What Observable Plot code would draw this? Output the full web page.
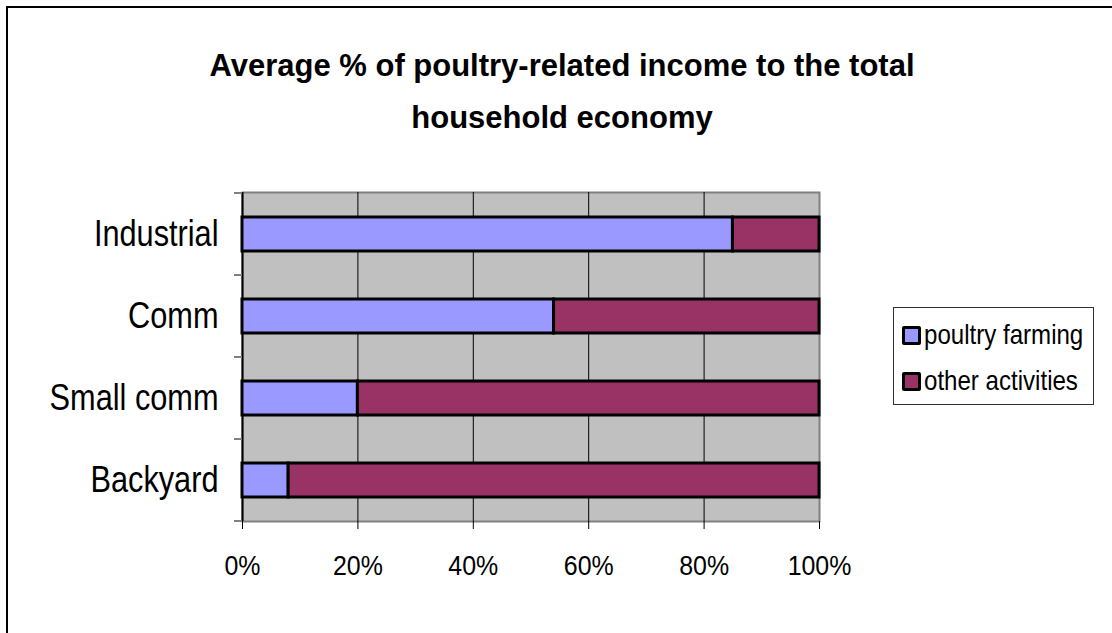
<!DOCTYPE html>
<html><head><meta charset="utf-8">
<script src="https://cdn.jsdelivr.net/npm/d3@7"></script>
<script src="https://cdn.jsdelivr.net/npm/@observablehq/plot@0.6"></script>
<style>
body{margin:0;width:1112px;height:633px;overflow:hidden;background:#fff;font-family:"Liberation Sans",Arial,sans-serif;}
#wrap{position:relative;width:1112px;height:633px;overflow:hidden;}
#border{position:absolute;left:6px;top:6px;width:1200px;height:800px;border:2px solid #000;box-sizing:border-box;}
#title{position:absolute;left:0;width:1124px;top:40px;text-align:center;font-weight:bold;font-size:31px;line-height:52px;color:#000;}
#chart{position:absolute;left:0;top:0;}
#legend{position:absolute;left:893px;top:307px;width:201px;height:98px;border:1px solid #333;box-sizing:border-box;background:#fff;}
.item{position:absolute;left:8px;height:22px;display:flex;align-items:center;font-size:28px;white-space:nowrap;}
.sw{display:inline-block;width:13px;height:13px;border:3px solid #000;border-radius:2px;margin-right:3px;flex:none;}
.lab{display:inline-block;transform:scaleX(0.86);transform-origin:left center;}
</style>
</head><body>
<div id="wrap">
<div id="border"></div>
<div id="chart"></div>
<div id="title">Average % of poultry-related income to the total<br>household economy</div>
<div id="legend"></div>
</div>
<script>
const categories = ["Industrial", "Comm", "Small comm", "Backyard"];
const series = ["poultry farming", "other activities"];
const poultryShare = [85, 54, 20, 8];
const otherShare = [15, 46, 80, 92];
const xTicks = [0, 20, 40, 60, 80, 100];
const gridValues = [20, 40, 60, 80];
const colors = ["#9999FF", "#993366"];

const data = categories.flatMap((c, i) => [
  {category: c, series: series[0], value: poultryShare[i]},
  {category: c, series: series[1], value: otherShare[i]}
]);

const FONT = '"Liberation Sans",Arial,sans-serif';

const boundaryTicks = (index, scales, values, dims) => {
  const y = scales.y;
  const bw = typeof y.bandwidth === "function" ? y.bandwidth() : y.bandwidth;
  const ys = categories.map(c => y(c));
  ys.push(y(categories[categories.length - 1]) + bw);
  const g = d3.create("svg:g");
  g.selectAll("line").data(ys).join("line")
    .attr("x1", dims.marginLeft - 8).attr("x2", dims.marginLeft)
    .attr("y1", d => d).attr("y2", d => d)
    .attr("stroke", "#808080").attr("stroke-width", 2);
  return g.node();
};

const chart = Plot.plot({
  width: 1112, height: 633,
  marginLeft: 242, marginRight: 293, marginTop: 192, marginBottom: 112,
  style: {fontFamily: FONT, background: "transparent", overflow: "visible", color: "#000"},
  x: {domain: [0, 100], axis: null},
  y: {domain: categories, padding: 0, axis: null},
  color: {domain: series, range: colors},
  marks: [
    Plot.frame({fill: "#C0C0C0", stroke: "#808080", strokeWidth: 2}),
    Plot.ruleX(gridValues, {stroke: "#000", strokeWidth: 1}),
    Plot.ruleX([0], {stroke: "#000", strokeWidth: 2}),
    Plot.barX(data, Plot.stackX({x: "value", y: "category", fill: "series", stroke: "#000", strokeWidth: 3, insetTop: 24, insetBottom: 24})),
    Plot.axisX({ticks: xTicks, tickFormat: d => d + "%", tickSize: 8, tickPadding: 26, fontSize: 28, stroke: "#000", label: null}),
    Plot.axisY({tickSize: 0, tickPadding: 24, fontSize: 37, label: null}),
    boundaryTicks
  ]
});
document.getElementById("chart").appendChild(chart);

// horizontally condense the axis texts (the reference uses a narrow face)
chart.querySelectorAll('g[aria-label="y-axis tick label"] text').forEach(t => {
  const w = t.getComputedTextLength();
  t.setAttribute("textLength", (w * 0.83).toFixed(1));
  t.setAttribute("lengthAdjust", "spacingAndGlyphs");
});
chart.querySelectorAll('g[aria-label="x-axis tick label"] text').forEach(t => {
  const w = t.getComputedTextLength();
  t.setAttribute("textLength", (w * 0.89).toFixed(1));
  t.setAttribute("lengthAdjust", "spacingAndGlyphs");
});

const legend = document.getElementById("legend");
series.forEach((s, i) => {
  const it = document.createElement("div");
  it.className = "item";
  it.style.top = (16 + i * 46) + "px";
  const sw = document.createElement("span");
  sw.className = "sw";
  sw.style.background = colors[i];
  it.appendChild(sw);
  const lab = document.createElement("span");
  lab.className = "lab";
  lab.textContent = s;
  it.appendChild(lab);
  legend.appendChild(it);
});
</script>
</body></html>
